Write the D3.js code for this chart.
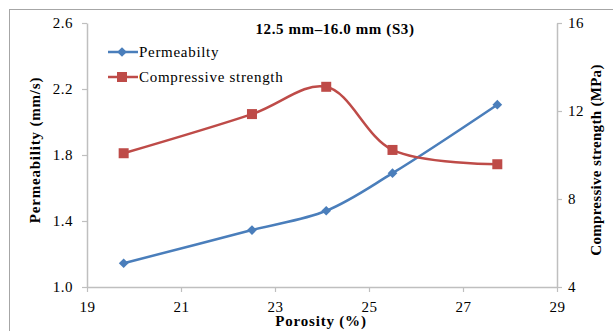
<!DOCTYPE html>
<html>
<head>
<meta charset="utf-8">
<script src="https://cdn.jsdelivr.net/npm/d3@7"></script>
<style>
  html, body { margin: 0; padding: 0; background: #fff; }
  svg { display: block; font-family: "Liberation Serif", "Times New Roman", serif; }
</style>
</head>
<body>
<svg id="chart" width="613" height="331"></svg>
<script>
// Porosity (%) for each specimen
const porosity = [19.78, 22.51, 24.09, 25.5, 27.73];
// Permeability (mm/s), left axis
const permeability = [1.144, 1.345, 1.462, 1.69, 2.105];
// Compressive strength (MPa), right axis
const strength = [10.08, 11.86, 13.1, 10.23, 9.58];

const xTicks = [19, 21, 23, 25, 27, 29];
const yLeftTicks = [1.0, 1.4, 1.8, 2.2, 2.6];
const yRightTicks = [4, 8, 12, 16];

const title = "12.5 mm\u201316.0 mm  (S3)";
const seriesNames = ["Permeabilty", "Compressive strength"];
const colors = ["#4a7ebb", "#be4b48"];
const axisColor = "#bfbfbf";

const svg = d3.select("#chart");

// outer chart frame
svg.append("rect")
  .attr("x", 9.5).attr("y", 9.5)
  .attr("width", 700).attr("height", 400)
  .attr("fill", "none").attr("stroke", "#a6a6a6").attr("stroke-width", 1);

const plotLeft = 87, plotRight = 557, plotTop = 23, plotBottom = 287;

const x = d3.scaleLinear().domain([19, 29]).range([plotLeft, plotRight]);
const yL = d3.scaleLinear().domain([1.0, 2.6]).range([plotBottom, plotTop]);
const yR = d3.scaleLinear().domain([4, 16]).range([plotBottom, plotTop]);

function styleAxis(g) {
  g.select(".domain").attr("stroke", axisColor).attr("stroke-width", 1.5);
  g.selectAll(".tick line").attr("stroke", axisColor).attr("stroke-width", 1.2);
  g.selectAll(".tick text").attr("fill", "#000").style("font-size", "15px")
    .style("letter-spacing", "0.5px")
    .style("font-family", "Liberation Serif, serif");
}

// bottom axis
svg.append("g").attr("transform", `translate(0,${plotBottom})`)
  .call(d3.axisBottom(x).tickValues(xTicks).tickFormat(d3.format("d")).tickSize(5).tickSizeOuter(0).tickPadding(9))
  .call(styleAxis);

// left axis
svg.append("g").attr("transform", `translate(${plotLeft},0)`)
  .call(d3.axisLeft(yL).tickValues(yLeftTicks).tickFormat(d3.format(".1f")).tickSize(5).tickSizeOuter(0).tickPadding(9))
  .call(styleAxis);

// right axis
svg.append("g").attr("transform", `translate(${plotRight},0)`)
  .call(d3.axisRight(yR).tickValues(yRightTicks).tickFormat(d3.format("d")).tickSize(5).tickSizeOuter(0).tickPadding(6))
  .call(styleAxis);

// lines
const permData = porosity.map((p, i) => [p, permeability[i]]);
const strData = porosity.map((p, i) => [p, strength[i]]);

const curve = d3.curveCatmullRom.alpha(0.5);
svg.append("path").datum(permData)
  .attr("fill", "none").attr("stroke", colors[0]).attr("stroke-width", 2.5)
  .attr("d", d3.line().x(d => x(d[0])).y(d => yL(d[1])).curve(curve));
svg.append("path").datum(strData)
  .attr("fill", "none").attr("stroke", colors[1]).attr("stroke-width", 2.5)
  .attr("d", d3.line().x(d => x(d[0])).y(d => yR(d[1])).curve(curve));

// markers
const diamond = d3.symbol().type(d3.symbolDiamond2).size(60);
svg.selectAll(".perm-pt").data(permData).enter().append("path")
  .attr("transform", d => `translate(${x(d[0])},${yL(d[1])})`)
  .attr("d", diamond).attr("fill", colors[0]);
svg.selectAll(".str-pt").data(strData).enter().append("rect")
  .attr("x", d => x(d[0]) - 5).attr("y", d => yR(d[1]) - 5)
  .attr("width", 10).attr("height", 10).attr("fill", colors[1]);

// title
svg.append("text").attr("x", 335).attr("y", 34).attr("text-anchor", "middle")
  .style("font-size", "15px").style("font-weight", "bold").style("letter-spacing", "0.6px")
  .text(title);

// legend
const legendRows = [52, 77];
legendRows.forEach((ly, i) => {
  svg.append("line").attr("x1", 108).attr("x2", 138).attr("y1", ly).attr("y2", ly)
    .attr("stroke", colors[i]).attr("stroke-width", 2.5);
  if (i === 0) {
    svg.append("path").attr("transform", `translate(122,${ly})`).attr("d", diamond).attr("fill", colors[0]);
  } else {
    svg.append("rect").attr("x", 117).attr("y", ly - 5).attr("width", 10).attr("height", 10).attr("fill", colors[1]);
  }
  svg.append("text").attr("x", 139).attr("y", ly + 5)
    .style("font-size", "15px").style("letter-spacing", "0.7px").text(seriesNames[i]);
});

// axis titles
svg.append("text").attr("transform", `translate(40,150) rotate(-90)`)
  .attr("text-anchor", "middle").style("font-size", "15px").style("font-weight", "bold")
  .style("letter-spacing", "0.8px")
  .text("Permeability (mm/s)");
svg.append("text").attr("transform", `translate(601,160) rotate(-90)`)
  .attr("text-anchor", "middle").style("font-size", "15px").style("font-weight", "bold")
  .style("letter-spacing", "0.3px")
  .text("Compressive  strength (MPa)");
svg.append("text").attr("x", 321).attr("y", 326).attr("text-anchor", "middle")
  .style("font-size", "15px").style("font-weight", "bold").style("letter-spacing", "0.8px")
  .text("Porosity (%)");
</script>
</body>
</html>
